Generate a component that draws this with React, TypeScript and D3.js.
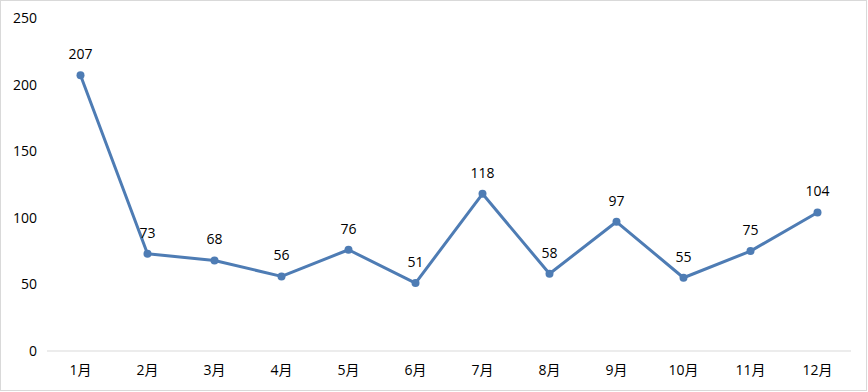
import React from "react";
import * as d3 from "d3";

const categories = ["1月", "2月", "3月", "4月", "5月", "6月", "7月", "8月", "9月", "10月", "11月", "12月"];
const values = [207, 73, 68, 56, 76, 51, 118, 58, 97, 55, 75, 104];
const yTicks = [0, 50, 100, 150, 200, 250];

const W = 868;
const H = 392;
const left = 47;
const right = 851;
const top = 18;
const bottom = 351;

export default function App() {
  const x = d3.scaleBand<string>().domain(categories).range([left, right]);
  const y = d3.scaleLinear().domain([0, 250]).range([bottom, top]);
  const cx = (c: string) => (x(c) as number) + x.bandwidth() / 2;
  const line = d3
    .line<number>()
    .x((_, i) => cx(categories[i]))
    .y((d) => y(d));
  const font = "'Open Sans', 'Noto Sans CJK SC', sans-serif";
  return (
    <svg
      width={W}
      height={H}
      style={{ position: "absolute", left: 0, top: 0, background: "#fff" }}
      fontFamily={font}
    >
      <rect x={0.5} y={0.5} width={W - 2} height={H - 2} fill="#fff" stroke="#d9d9d9" />
      <line x1={left} x2={right} y1={y(0)} y2={y(0)} stroke="#d9d9d9" strokeWidth={1} />
      {yTicks.map((t) => (
        <text key={t} x={37} y={y(t)} dy="0.35em" textAnchor="end" fontSize={14} fill="#000">
          {t}
        </text>
      ))}
      {categories.map((c) => (
        <text key={c} x={cx(c)} y={370} dy="0.35em" textAnchor="middle" fontSize={14} fill="#000">
          {c}
        </text>
      ))}
      <path d={line(values) || ""} fill="none" stroke="#4E7CB4" strokeWidth={3} strokeLinejoin="round" />
      {values.map((v, i) => (
        <g key={i}>
          <circle cx={cx(categories[i])} cy={y(v)} r={4} fill="#4E7CB4" />
          <text
            x={cx(categories[i])}
            y={y(v) - 21}
            dy="0.35em"
            textAnchor="middle"
            fontSize={14}
            fill="#000"
          >
            {v}
          </text>
        </g>
      ))}
    </svg>
  );
}
